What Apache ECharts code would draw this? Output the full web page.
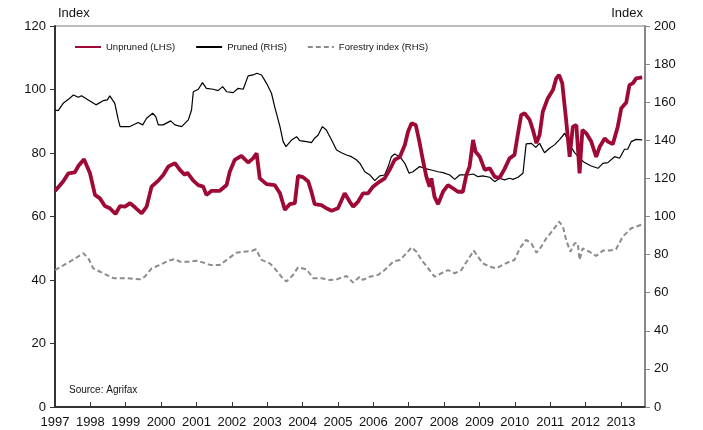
<!DOCTYPE html>
<html>
	<head>
		<meta charset="UTF-8">
		<title>Log prices</title>
		<style>
			html, body { margin: 0; padding: 0; background: #fff; }
			#chart { width: 703px; height: 430px; }
		</style>
	</head>
	<body>
		<div id="chart"></div>
	</body>
	<script src="https://cdn.jsdelivr.net/npm/echarts@6/dist/echarts.min.js" type="text/javascript" charset="utf-8"></script>
	<script type="text/javascript">
		// start year, x values are years after this
		var baseYear = 1997;
		var yearTicks = [1997, 1998, 1999, 2000, 2001, 2002, 2003, 2004, 2005, 2006, 2007, 2008, 2009, 2010, 2011, 2012, 2013];

		// Unpruned (LHS)
		var unprunedT = [0.00, 0.23, 0.38, 0.56, 0.66, 0.82, 0.99, 1.13, 1.27, 1.41, 1.55, 1.71, 1.84, 1.98, 2.12, 2.26, 2.45, 2.59, 2.73, 2.92,
			3.06, 3.20, 3.39, 3.53, 3.67, 3.74, 3.91, 4.05, 4.19, 4.28, 4.43, 4.66, 4.85, 4.94, 5.08, 5.27, 5.46, 5.60, 5.70, 5.79,
			5.98, 6.21, 6.36, 6.50, 6.64, 6.78, 6.87, 7.01, 7.16, 7.25, 7.34, 7.53, 7.67, 7.82, 8.00, 8.19, 8.33, 8.43, 8.57, 8.71,
			8.85, 8.99, 9.18, 9.32, 9.46, 9.60, 9.75, 9.89, 9.98, 10.08, 10.20, 10.31, 10.40, 10.50, 10.59, 10.64, 10.73, 10.83, 10.97, 11.11,
			11.25, 11.39, 11.53, 11.63, 11.72, 11.82, 11.89, 12.01, 12.15, 12.29, 12.43, 12.57, 12.71, 12.85, 12.99, 13.09, 13.18, 13.28, 13.42, 13.51,
			13.61, 13.70, 13.79, 13.93, 14.08, 14.17, 14.25, 14.34, 14.45, 14.55, 14.64, 14.74, 14.83, 14.91, 15.02, 15.16, 15.30, 15.40, 15.54, 15.63,
			15.77, 15.91, 16.01, 16.15, 16.24, 16.34, 16.43, 16.60];
		var unprunedV = [68.0, 71.0, 73.6, 73.9, 75.9, 78.0, 73.6, 66.8, 65.7, 63.3, 62.6, 60.8, 63.3, 63.1, 64.2, 62.9, 61.0, 63.1, 69.4, 71.3,
			73.1, 75.7, 76.8, 74.7, 73.1, 73.8, 71.3, 69.9, 69.4, 66.8, 68.1, 68.1, 69.9, 74.1, 77.8, 79.1, 77.0, 78.3, 79.9, 72.0,
			70.2, 69.9, 67.3, 62.1, 63.9, 64.2, 72.8, 72.4, 71.0, 67.8, 63.9, 63.6, 62.6, 61.8, 62.6, 67.3, 64.7, 63.1, 64.7, 67.3,
			67.3, 69.4, 71.0, 72.0, 74.7, 77.8, 78.8, 82.5, 86.7, 89.4, 88.8, 83.1, 77.8, 72.5, 69.4, 72.0, 66.2, 63.9, 67.8, 69.9,
			68.9, 67.8, 67.8, 73.1, 75.7, 84.1, 80.4, 78.8, 74.7, 75.2, 72.5, 72.2, 75.0, 78.3, 79.4, 86.2, 92.0, 92.5, 90.4, 87.3,
			83.1, 85.7, 93.0, 97.2, 99.9, 103.5, 104.6, 102.0, 90.4, 78.8, 88.3, 88.8, 73.6, 87.3, 86.2, 83.6, 78.8, 82.0, 84.6, 83.6,
			82.8, 88.3, 94.1, 95.9, 101.4, 102.0, 103.5, 103.8];

		// Pruned (RHS)
		var prunedT = [0.00, 0.09, 0.23, 0.38, 0.52, 0.66, 0.75, 0.94, 1.16, 1.36, 1.48, 1.55, 1.69, 1.79, 1.84, 2.12, 2.35, 2.48, 2.59, 2.76,
			2.85, 2.92, 3.06, 3.27, 3.39, 3.58, 3.77, 3.86, 3.91, 4.05, 4.17, 4.28, 4.47, 4.61, 4.74, 4.85, 5.04, 5.18, 5.32, 5.46,
			5.60, 5.71, 5.84, 5.98, 6.12, 6.21, 6.36, 6.45, 6.53, 6.69, 6.83, 6.92, 7.11, 7.25, 7.34, 7.44, 7.56, 7.67, 7.82, 7.96,
			8.10, 8.24, 8.38, 8.52, 8.62, 8.76, 8.90, 9.04, 9.18, 9.32, 9.42, 9.51, 9.60, 9.75, 9.89, 10.01, 10.12, 10.31, 10.45, 10.64,
			10.83, 10.97, 11.16, 11.30, 11.44, 11.67, 11.82, 11.96, 12.09, 12.29, 12.43, 12.57, 12.71, 12.85, 12.95, 13.09, 13.23, 13.32, 13.47, 13.59,
			13.70, 13.84, 13.98, 14.12, 14.17, 14.27, 14.41, 14.55, 14.69, 14.83, 14.97, 15.16, 15.35, 15.49, 15.63, 15.82, 15.96, 16.10, 16.19, 16.29,
			16.43, 16.60];
		var prunedV = [155.9, 155.6, 159.4, 161.5, 163.8, 162.6, 163.4, 161.2, 158.6, 160.8, 161.2, 163.3, 159.4, 150.7, 147.2, 147.2, 149.3, 148.1, 151.6, 154.2,
			152.4, 148.1, 148.1, 150.2, 148.1, 147.2, 150.7, 155.9, 165.5, 166.8, 170.3, 167.3, 166.8, 166.1, 168.2, 165.5, 165.0, 167.3, 166.8, 173.8,
			174.3, 175.2, 174.3, 169.9, 164.7, 157.7, 147.2, 139.3, 136.7, 140.2, 141.9, 139.8, 139.3, 138.8, 141.1, 142.8, 147.2, 145.4, 140.2, 134.9,
			133.5, 132.3, 131.4, 129.8, 127.9, 123.5, 121.8, 118.8, 121.3, 121.8, 126.2, 131.4, 132.8, 131.4, 127.9, 122.7, 123.5, 126.2, 125.3, 124.4,
			123.5, 123.0, 121.8, 119.5, 121.8, 121.8, 122.3, 120.9, 121.3, 120.6, 118.3, 120.1, 119.2, 120.1, 119.5, 120.6, 122.7, 138.1, 138.4, 136.3,
			138.4, 133.5, 135.8, 137.6, 136.7, 140.5, 143.7, 137.6, 133.5, 130.6, 128.3, 126.5, 125.3, 127.9, 128.3, 131.4, 130.6, 135.3, 135.3, 139.3,
			140.5, 140.2];

		// Forestry index (RHS)
		var forestryT = [0.00, 0.42, 0.80, 0.94, 1.08, 1.36, 1.65, 2.03, 2.40, 2.54, 2.73, 2.97, 3.20, 3.39, 3.53, 3.77, 4.00, 4.20, 4.38, 4.66,
			4.85, 5.13, 5.32, 5.56, 5.68, 5.84, 6.07, 6.21, 6.40, 6.54, 6.73, 6.87, 7.11, 7.30, 7.53, 7.77, 7.96, 8.24, 8.43, 8.62,
			8.71, 8.90, 9.13, 9.32, 9.56, 9.75, 9.94, 10.08, 10.22, 10.36, 10.55, 10.73, 10.92, 11.11, 11.30, 11.49, 11.67, 11.84, 11.96, 12.09,
			12.29, 12.48, 12.66, 12.85, 12.99, 13.14, 13.32, 13.47, 13.61, 13.75, 13.89, 14.08, 14.25, 14.36, 14.45, 14.57, 14.69, 14.78, 14.83, 14.92,
			15.11, 15.30, 15.49, 15.68, 15.86, 16.05, 16.29, 16.48, 16.60];
		var forestryV = [71.9, 76.3, 80.7, 78.1, 72.8, 70.2, 67.6, 67.6, 67.0, 68.4, 72.8, 74.6, 76.8, 77.7, 76.3, 76.3, 76.8, 75.8, 74.6, 74.6,
			77.2, 81.0, 81.5, 81.9, 82.8, 77.2, 75.4, 72.8, 68.4, 65.8, 69.3, 73.3, 72.3, 67.6, 67.6, 66.7, 67.0, 68.8, 65.3, 68.4,
			66.7, 68.4, 69.3, 71.9, 76.3, 77.2, 80.7, 83.8, 81.5, 77.2, 72.8, 68.4, 70.2, 71.9, 70.2, 71.9, 77.2, 82.1, 78.9, 75.4,
			73.7, 72.8, 74.6, 76.3, 77.2, 83.3, 87.7, 85.9, 81.0, 84.2, 88.6, 92.9, 97.3, 94.7, 87.7, 81.5, 85.9, 85.9, 77.2, 83.3,
			81.5, 79.3, 82.1, 82.1, 82.8, 89.4, 93.8, 95.0, 95.9];

		function pairs(t, v) {
			return t.map(function(x, i) { return [baseYear + x, v[i]]; });
		}

		var chart = echarts.init(document.getElementById("chart"));
		var font = 'Liberation Sans, Arial, sans-serif';
		var red = '#9e0a35';

		var option = {
			animation: false,
			textStyle: { fontFamily: font },
			grid: { left: 55, right: 58, top: 26, bottom: 23, show: true, borderColor: '#777', borderWidth: 1 },
			legend: {
				left: 69, top: 37,
				itemWidth: 26, itemHeight: 10, itemGap: 20,
				itemStyle: { opacity: 0 },   // 只保留线条，不要圆点
				textStyle: { fontSize: 9.5, color: '#111', fontFamily: font },
				data: ['Unpruned (LHS)', 'Pruned (RHS)', 'Forestry index (RHS)']
			},
			graphic: [{
				type: 'text', left: 69, top: 385,
				style: { text: 'Source: Agrifax', fontSize: 10, fill: '#111', fontFamily: font }
			}],
			xAxis: {
				type: 'value', min: baseYear, max: baseYear + 16.68, interval: 1,
				axisLine: { lineStyle: { color: '#333', width: 2 } },
				axisTick: { inside: true, length: 5, lineStyle: { color: '#333' } },
				axisLabel: {
					fontSize: 13, color: '#111', margin: 9, showMaxLabel: false,
					formatter: function(v) { return yearTicks.indexOf(v) >= 0 ? String(v) : ''; }
				},
				splitLine: { show: false }
			},
			yAxis: [{
				type: 'value', min: 0, max: 120, interval: 20, position: 'left',
				name: 'Index', nameGap: 6,
				nameTextStyle: { fontSize: 13, color: '#111', align: 'left', padding: [0, 0, 0, 3] },
				axisLine: { show: true, lineStyle: { color: '#333', width: 2 } },
				axisTick: { show: true, length: 5, lineStyle: { color: '#333' } },
				axisLabel: { fontSize: 13, color: '#111', margin: 9 },
				splitLine: { show: false }
			}, {
				type: 'value', min: 0, max: 200, interval: 20, position: 'right',
				name: 'Index', nameGap: 6,
				nameTextStyle: { fontSize: 13, color: '#111', align: 'right', padding: [0, 2, 0, 0] },
				axisLine: { show: true, lineStyle: { color: '#888', width: 2 } },
				axisTick: { show: true, length: 5, lineStyle: { color: '#888' } },
				axisLabel: { fontSize: 13, color: '#111', margin: 9 },
				splitLine: { show: false }
			}],
			series: [{
				name: 'Forestry index (RHS)', type: 'line', yAxisIndex: 1, symbol: 'none',
				lineStyle: { color: '#8c8c8c', width: 2, type: [5, 3] },
				itemStyle: { color: '#8c8c8c' },
				data: pairs(forestryT, forestryV)
			}, {
				name: 'Pruned (RHS)', type: 'line', yAxisIndex: 1, symbol: 'none',
				lineStyle: { color: '#000', width: 1.2 },
				itemStyle: { color: '#000' },
				data: pairs(prunedT, prunedV)
			}, {
				name: 'Unpruned (LHS)', type: 'line', yAxisIndex: 0, symbol: 'none',
				lineStyle: { color: red, width: 3.8 },
				itemStyle: { color: red },
				data: pairs(unprunedT, unprunedV)
			}]
		};

		chart.setOption(option);
	</script>
</html>
